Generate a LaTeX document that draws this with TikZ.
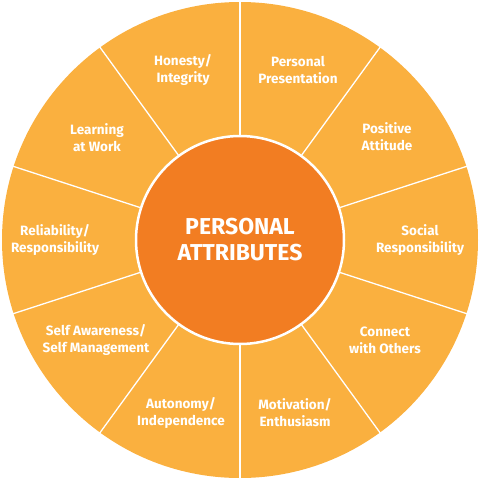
\documentclass[tikz,border=0pt]{standalone}
\usepackage{fontspec}
\setmainfont{Fira Sans}
\definecolor{outerorange}{HTML}{FAB03F}
\definecolor{innerorange}{HTML}{F27D22}
\begin{document}
\begin{tikzpicture}[x=1pt,y=-1pt,
  lbl/.style={text=white,font=\fontsize{13.5}{17}\selectfont\bfseries,align=center,inner sep=0pt},
  divider/.style={draw=white,line width=1.3pt}]
\useasboundingbox (0,0) rectangle (480,480);
\fill[outerorange] (240,240) circle[radius=238];
\foreach \a in {90,54,18,-18,-54,-90,-126,-162,162,126}{
  \draw[divider] ({240+100*cos(\a)},{240-100*sin(\a)}) -- ({240+240*cos(\a)},{240-240*sin(\a)});
}
\node[circle,fill=innerorange,draw=white,line width=2.5pt,minimum size=208pt,inner sep=0pt,
  text=white,font=\fontsize{23}{26}\selectfont\bfseries,align=center] (core) at (240,240) {PERSONAL\\ATTRIBUTES};
\node[lbl] (honesty) at (183,70) {Honesty/\\Integrity};
\node[lbl] (presentation) at (298,70) {Personal\\Presentation};
\node[lbl] (learning) at (97,138) {Learning\\at Work};
\node[lbl] (positive) at (387,137) {Positive\\Attitude};
\node[lbl] (reliability) at (55,240) {Reliability/\\Responsibility};
\node[lbl] (social) at (420,240) {Social\\Responsibility};
\node[lbl] (selfaware) at (96,340) {Self Awareness/\\Self Management};
\node[lbl] (connect) at (385,340) {Connect\\with Others};
\node[lbl] (autonomy) at (181,413) {Autonomy/\\Independence};
\node[lbl] (motivation) at (295,413) {Motivation/\\Enthusiasm};
\end{tikzpicture}
\end{document}
